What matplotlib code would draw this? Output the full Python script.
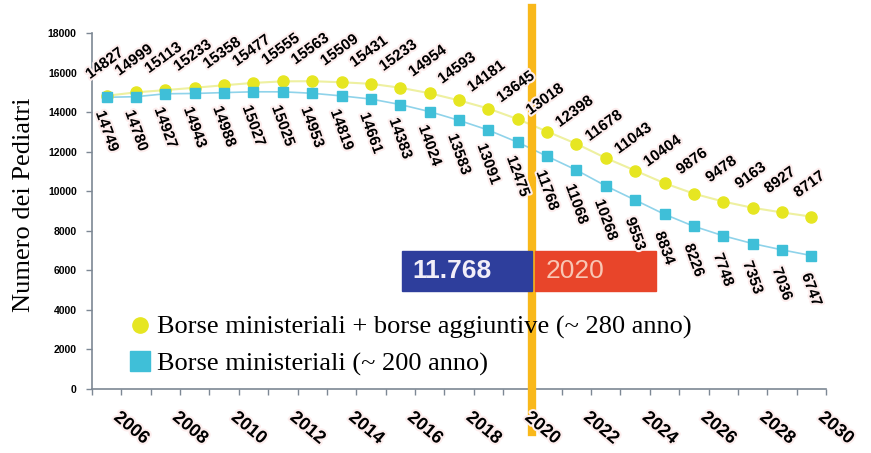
import numpy as np
import matplotlib.pyplot as plt
import matplotlib.patheffects as pe
from matplotlib.patches import Rectangle
from matplotlib.lines import Line2D

# projected number of paediatricians, one point per year
with_extra = [14827, 14999, 15113, 15233, 15358, 15477, 15555, 15563, 15509,
              15431, 15233, 14954, 14593, 14181, 13645, 13018, 12398, 11678,
              11043, 10404, 9876, 9478, 9163, 8927, 8717]
ministerial = [14749, 14780, 14927, 14943, 14988, 15027, 15025, 14953, 14819,
               14661, 14383, 14024, 13583, 13091, 12475, 11768, 11068, 10268,
               9553, 8834, 8226, 7748, 7353, 7036, 6747]
year_labels = ['2006', '2008', '2010', '2012', '2014', '2016', '2018',
               '2020', '2022', '2024', '2026', '2028', '2030']
highlight = 15  # index of the highlighted year

name_extra = 'Borse ministeriali + borse aggiuntive (~ 280 anno)'
name_min = 'Borse ministeriali (~ 200 anno)'

sans = ['Liberation Sans', 'DejaVu Sans']
serif = ['Liberation Serif', 'DejaVu Serif']
halo = [pe.withStroke(linewidth=3, foreground='#fdeeee')]

fig = plt.figure(figsize=(8.71, 4.53), dpi=100)
ax = fig.add_axes([92 / 871, 1 - 389 / 453, 734 / 871, 356 / 453])

x = np.arange(len(with_extra))
ax.plot(x, with_extra, color='#eef0a0', lw=1.5, zorder=2)
ax.plot(x, with_extra, 'o', color='#e6e622', ms=8, zorder=3)
ax.plot(x, ministerial, color='#8fd3ea', lw=1.2, zorder=2)
ax.plot(x, ministerial, 's', color='#3fbfd8', ms=7, zorder=3)

for xi, v in zip(x, with_extra):
    ax.annotate(str(v), (xi, v), xytext=(-2, 32), textcoords='offset pixels',
                ha='center', va='center', rotation=36, fontsize=11,
                fontweight='bold', family=sans, path_effects=halo, zorder=6)
for xi, v in zip(x, ministerial):
    ax.annotate(str(v), (xi, v), xytext=(0, -34), textcoords='offset pixels',
                ha='center', va='center', rotation=-70, fontsize=11,
                fontweight='bold', family=sans, path_effects=halo, zorder=6)

# year marker line
ax.axvline(highlight - 0.5, ymin=-0.12, ymax=1.07, color='#f9b81a', lw=6,
           clip_on=False, zorder=4)

# value / year boxes
ax.add_patch(Rectangle((10.05, 4950), 4.42, 2050, color='#2e3e9c', zorder=5))
ax.add_patch(Rectangle((14.6, 4950), 4.1, 2050, color='#e8452a', zorder=5))
ax.text(10.4, 5975, f'{ministerial[highlight]:,}'.replace(',', '.'),
        color='#f2eef8', fontsize=19, fontweight='bold', family=sans,
        va='center', ha='left', zorder=6)
ax.text(14.95, 5975, year_labels[(highlight - 1) // 2], color='#f8c6b4',
        fontsize=19, family=sans, va='center', ha='left', zorder=6)

ax.set_xlim(-0.5, len(x) - 0.5)
ax.set_ylim(0, 18000)
ax.set_yticks(np.arange(0, 18001, 2000))
ax.set_xticks(np.arange(-0.5, len(x), 1.0))
ax.set_xticklabels([])
for spine in ['top', 'right']:
    ax.spines[spine].set_visible(False)
for spine in ['left', 'bottom']:
    ax.spines[spine].set_color('#7d8894')
    ax.spines[spine].set_linewidth(1.2)
ax.tick_params(axis='both', colors='#7d8894', length=4, width=1)
ax.tick_params(axis='y', labelcolor='black', pad=7)
for lab in ax.get_yticklabels():
    lab.set_fontsize(7.5)
    lab.set_fontweight('bold')
    lab.set_family(sans)

# year labels sit on every other category boundary
for i, yl in enumerate(year_labels):
    ax.text(0.5 + 2 * i, -1000, yl, rotation=-40, rotation_mode='anchor',
            ha='left', va='top', fontsize=13, fontweight='bold',
            family=sans, path_effects=halo, zorder=6)

fig.text(24 / 871, 1 - 205 / 453, 'Numero dei Pediatri', rotation=90,
         ha='center', va='center', fontsize=19, family=serif)

handles = [Line2D([], [], ls='', marker='o', color='#e6e622', ms=11),
           Line2D([], [], ls='', marker='s', color='#3fbfd8', ms=14)]
ax.legend(handles, [name_extra, name_min], loc='upper left',
          bbox_to_anchor=(120 / 871, 1 - 305 / 453),
          bbox_transform=fig.transFigure, frameon=False,
          prop={'family': serif, 'size': 19}, handlelength=0.7,
          handletextpad=0.3, labelspacing=0.48, borderaxespad=0)

fig.savefig('out.png', dpi=100, facecolor='white')
